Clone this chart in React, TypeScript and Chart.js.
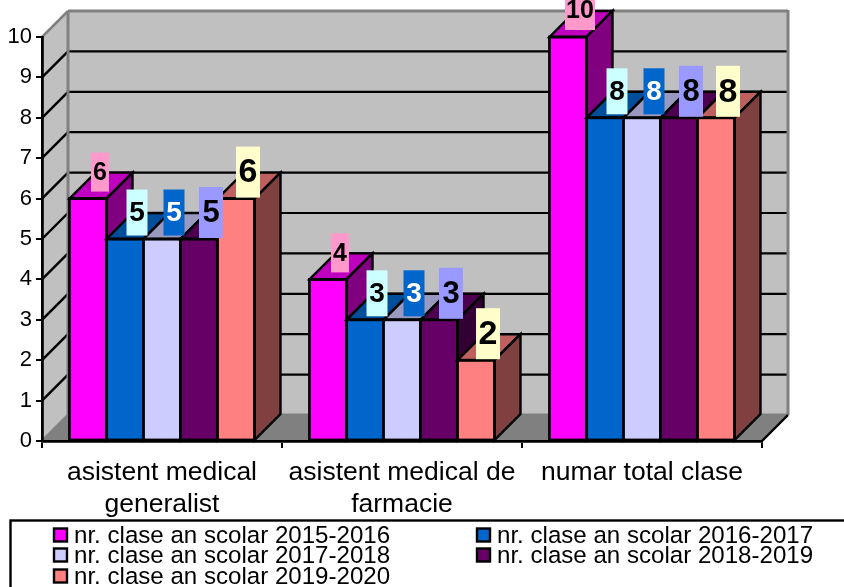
import React, { useEffect, useRef } from "react";
import { Chart, registerables } from "chart.js";

Chart.register(...registerables);

const categories = [
  ["asistent medical", "generalist"],
  ["asistent medical de", "farmacie"],
  ["numar total clase"],
];
const seriesNames = [
  "nr. clase an scolar 2015-2016",
  "nr. clase an scolar 2016-2017",
  "nr. clase an scolar 2017-2018",
  "nr. clase an scolar 2018-2019",
  "nr. clase an scolar 2019-2020",
];
const y2015 = [6, 4, 10];
const y2016 = [5, 3, 8];
const y2017 = [5, 3, 8];
const y2018 = [5, 3, 8];
const y2019 = [6, 2, 8];
const seriesValues = [y2015, y2016, y2017, y2018, y2019];

const frontColors = ["#FF00FF", "#0066CC", "#CCCCFF", "#660066", "#FF8080"];
const topColors = ["#BF00BF", "#004D99", "#9999BF", "#4D004D", "#BF6060"];
const sideColors = ["#800080", "#003366", "#666680", "#330033", "#804040"];
const labelBg = ["#FF99CC", "#CCFFFF", "#0066CC", "#9999FF", "#FFFFCC"];
const labelFg = ["#000000", "#000000", "#FFFFFF", "#000000", "#000000"];
const labelFont = [25, 28, 28, 31, 34];
const labelBoxW = [18, 21, 21, 24, 24];
const labelBoxH = [39, 46, 46, 51, 51];

const FONT = '"Liberation Sans", Arial, sans-serif';
const DEPTH = 26;
const WALL = "#C0C0C0";
const WALL_EDGE = "#808080";

function poly(ctx: any, pts: number[][], fill: string | null, stroke: string | null, lw = 2.4) {
  ctx.beginPath();
  pts.forEach((p, i) => (i ? ctx.lineTo(p[0], p[1]) : ctx.moveTo(p[0], p[1])));
  ctx.closePath();
  if (fill) {
    ctx.fillStyle = fill;
    ctx.fill();
  }
  if (stroke) {
    ctx.strokeStyle = stroke;
    ctx.lineWidth = lw;
    ctx.lineJoin = "miter";
    ctx.stroke();
  }
}

function line(ctx: any, x1: number, y1: number, x2: number, y2: number, color: string, lw = 2) {
  ctx.beginPath();
  ctx.moveTo(x1, y1);
  ctx.lineTo(x2, y2);
  ctx.strokeStyle = color;
  ctx.lineWidth = lw;
  ctx.stroke();
}

const walls3d = {
  id: "walls3d",
  beforeDraw(chart: any) {
    const ctx = chart.ctx;
    const { left, right, top, bottom } = chart.chartArea;
    const y = chart.scales.y;
    ctx.save();
    poly(ctx, [[left + DEPTH, top - DEPTH], [right + DEPTH, top - DEPTH], [right + DEPTH, bottom - DEPTH], [left + DEPTH, bottom - DEPTH]], WALL, null);
    poly(ctx, [[left, top], [left + DEPTH, top - DEPTH], [left + DEPTH, bottom - DEPTH], [left, bottom]], WALL, null);
    poly(ctx, [[left, bottom], [left + DEPTH, bottom - DEPTH], [right + DEPTH, bottom - DEPTH], [right, bottom]], WALL_EDGE, null);
    y.ticks.forEach((t: any) => {
      const py = y.getPixelForValue(t.value);
      const edge = t.value === 0 || t.value === 10;
      const c = edge ? WALL_EDGE : "#000000";
      line(ctx, left, py, left + DEPTH, py - DEPTH, c, edge ? 2.5 : 2.4);
      line(ctx, left + DEPTH, py - DEPTH, right + DEPTH, py - DEPTH, c, edge ? 3 : 2.2);
    });
    line(ctx, left + DEPTH, top - DEPTH, left + DEPTH, bottom - DEPTH, WALL_EDGE, 3);
    line(ctx, right + DEPTH, top - DEPTH - 1, right + DEPTH, bottom - DEPTH, WALL_EDGE, 3);
    line(ctx, right, bottom, right + DEPTH, bottom - DEPTH, "#000000", 2.4);
    ctx.restore();
  },
};

const bars3d = {
  id: "bars3d",
  beforeDatasetsDraw(chart: any) {
    const ctx = chart.ctx;
    const metas = chart.getSortedVisibleDatasetMetas();
    metas.forEach((meta: any, si: number) => {
      meta.controller.draw();
      ctx.save();
      meta.data.forEach((el: any) => {
        const l = el.x - el.width / 2;
        const r = el.x + el.width / 2;
        poly(ctx, [[l, el.y], [r, el.y], [r + DEPTH, el.y - DEPTH], [l + DEPTH, el.y - DEPTH]], topColors[si], "#000000");
        poly(ctx, [[r, el.y], [r + DEPTH, el.y - DEPTH], [r + DEPTH, el.base - DEPTH], [r, el.base]], sideColors[si], "#000000");
        ctx.strokeStyle = "#000000";
        ctx.lineWidth = 2.8;
        ctx.strokeRect(l, el.y, el.width, el.base - el.y);
      });
      ctx.restore();
    });
    return false;
  },
};

const overlays = {
  id: "overlays",
  afterDraw(chart: any) {
    const ctx = chart.ctx;
    ctx.save();
    ctx.textAlign = "center";
    ctx.textBaseline = "middle";
    const metas = chart.getSortedVisibleDatasetMetas();
    metas.forEach((meta: any, si: number) => {
      meta.data.forEach((el: any, i: number) => {
        const cx = el.x + 12;
        const cy = el.y - 26.5;
        const w = seriesValues[si][i] >= 10 ? 30 : labelBoxW[si];
        const h = labelBoxH[si];
        ctx.fillStyle = labelBg[si];
        ctx.fillRect(cx - w / 2, cy - h / 2, w, h);
        ctx.fillStyle = labelFg[si];
        ctx.font = `bold ${labelFont[si]}px ${FONT}`;
        ctx.fillText(String(seriesValues[si][i]), cx, cy + 1);
      });
    });

    // legend
    const rowY = [535, 555, 576];
    const colX = [53, 476];
    const slots = [[0, 0], [1, 0], [0, 1], [1, 1], [0, 2]];
    ctx.strokeStyle = "#000000";
    ctx.lineWidth = 2.4;
    ctx.strokeRect(10.5, 520.5, 850, 80);
    ctx.textAlign = "left";
    ctx.textBaseline = "alphabetic";
    ctx.font = `24.1px ${FONT}`;
    slots.forEach(([c, r], i) => {
      const x = colX[c];
      const y = rowY[r];
      ctx.fillStyle = frontColors[i];
      ctx.fillRect(x + 1, y - 6.5, 13, 13);
      ctx.strokeRect(x + 1, y - 6.5, 13, 13);
      ctx.fillStyle = "#000000";
      ctx.fillText(seriesNames[i], x + 21, y + 8);
    });
    ctx.restore();
  },
};

export default function App() {
  const ref = useRef<HTMLCanvasElement | null>(null);
  useEffect(() => {
    const chart = new Chart(ref.current as any, {
      type: "bar",
      data: {
        labels: categories as any,
        datasets: seriesValues.map((values, i) => ({
          label: seriesNames[i],
          data: values,
          backgroundColor: frontColors[i],
          borderWidth: 0,
          categoryPercentage: 185 / 240,
          barPercentage: 1,
        })),
      },
      options: {
        animation: false,
        responsive: false,
        devicePixelRatio: 1,
        layout: { padding: { top: 37, right: 82, left: 0, bottom: 0 } },
        plugins: { legend: { display: false }, title: { display: false }, tooltip: { enabled: false } },
        scales: {
          x: {
            afterFit: (s: any) => {
              s.height = 146;
            },
            border: { display: true, color: "#000000", width: 2.8 },
            grid: { display: true, drawOnChartArea: false, drawTicks: true, tickLength: 7, color: "#000000", lineWidth: 2 },
            ticks: {
              color: "#000000",
              autoSkip: false,
              maxRotation: 0,
              minRotation: 0,
              padding: 8,
              font: { family: FONT, size: 26.5, lineHeight: 1.23 },
            },
          },
          y: {
            min: 0,
            max: 10,
            afterFit: (s: any) => {
              s.width = 42;
            },
            border: { display: true, color: "#000000", width: 2.8 },
            grid: { display: true, drawOnChartArea: false, drawTicks: true, tickLength: 6, color: "#000000", lineWidth: 2 },
            ticks: {
              stepSize: 1,
              color: "#000000",
              padding: 4,
              font: { family: FONT, size: 22 },
            },
          },
        },
      },
      plugins: [walls3d, bars3d, overlays],
    } as any);
    return () => chart.destroy();
  }, []);
  return (
    <div style={{ position: "fixed", left: 0, top: 0, width: 844, height: 587, overflow: "hidden", background: "#fff" }}>
      <canvas ref={ref} width={844} height={587} style={{ display: "block" }} />
    </div>
  );
}
